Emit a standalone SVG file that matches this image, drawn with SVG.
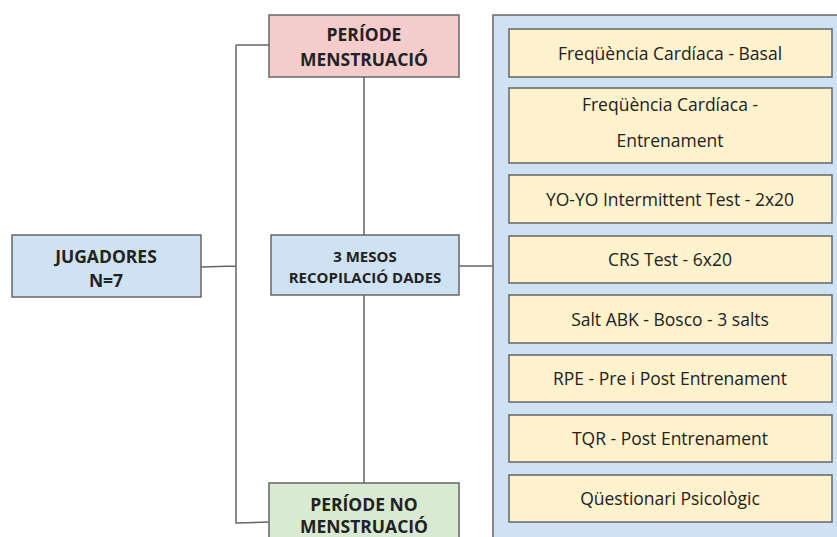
<svg xmlns="http://www.w3.org/2000/svg" width="837" height="537" viewBox="0 0 837 537">
<style>
rect{stroke:#666;stroke-width:1.5}
.pink{fill:#f4cccc}.blue{fill:#cfe2f3}.green{fill:#d9ead3}.yel{fill:#fff2cc}
text{font-family:"Open Sans",Lato,sans-serif;fill:#222;text-anchor:middle;dominant-baseline:central}
.b{font-weight:bold;font-size:17.5px}
.s{font-weight:bold;font-size:15px}
.r{font-size:17.5px}
.conn path{fill:none;stroke:#666;stroke-width:1.5}
</style>
<g class="conn">
<path d="M201,267 L236,266 M236,45 L269,45 M236,45 L236,523 L269,522 M364,77 L364,235 M364,295 L364,483 M459,266 L493,266"/>
</g>
<g id="container"><rect class="blue" x="493" y="15" width="360" height="540"/></g>
<g id="periode"><rect class="pink" x="269" y="15" width="190" height="62"/>
<text class="b" x="364" y="34">PERÍODE</text><text class="b" x="364" y="59">MENSTRUACIÓ</text></g>
<g id="jugadores"><rect class="blue" x="12" y="235" width="189" height="62"/>
<text class="b" x="106" y="256">JUGADORES</text><text class="b" x="106" y="280">N=7</text></g>
<g id="mesos"><rect class="blue" x="271" y="235" width="188" height="60"/>
<text class="s" x="365" y="256">3 MESOS</text><text class="s" x="365" y="277">RECOPILACIÓ DADES</text></g>
<g id="noperiode"><rect class="green" x="269" y="483" width="190" height="70"/>
<text class="b" x="364" y="504">PERÍODE NO</text><text class="b" x="364" y="526">MENSTRUACIÓ</text></g>
<g id="i1"><rect class="yel" x="509" y="29" width="323" height="48"/><text class="r" x="670" y="53">Freqüència Cardíaca - Basal</text></g>
<g id="i2"><rect class="yel" x="509" y="88" width="323" height="75"/><text class="r" x="670" y="104">Freqüència Cardíaca -</text><text class="r" x="670" y="140">Entrenament</text></g>
<g id="i3"><rect class="yel" x="509" y="175" width="323" height="48"/><text class="r" x="670" y="199">YO-YO Intermittent Test - 2x20</text></g>
<g id="i4"><rect class="yel" x="509" y="236" width="323" height="47"/><text class="r" x="670" y="259">CRS Test - 6x20</text></g>
<g id="i5"><rect class="yel" x="509" y="295" width="323" height="48"/><text class="r" x="670" y="319">Salt ABK - Bosco - 3 salts</text></g>
<g id="i6"><rect class="yel" x="509" y="355" width="323" height="47"/><text class="r" x="670" y="378">RPE - Pre i Post Entrenament</text></g>
<g id="i7"><rect class="yel" x="509" y="415" width="323" height="47"/><text class="r" x="670" y="438">TQR - Post Entrenament</text></g>
<g id="i8"><rect class="yel" x="509" y="475" width="323" height="47"/><text class="r" x="670" y="498">Qüestionari Psicològic</text></g>
</svg>
